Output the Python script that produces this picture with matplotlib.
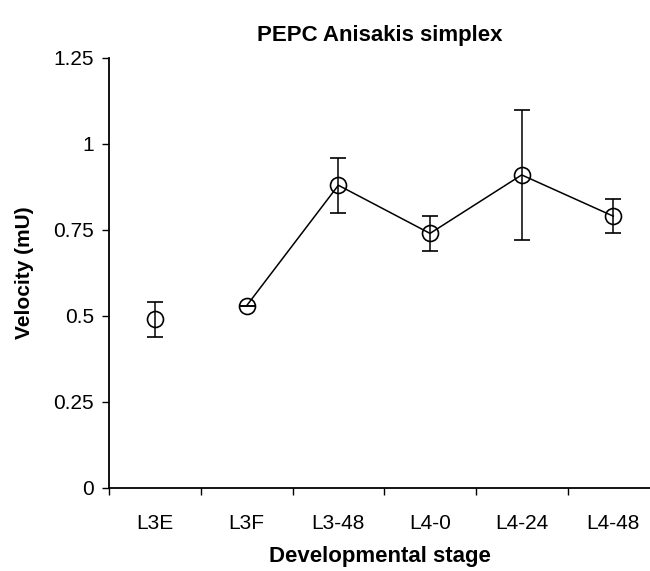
import numpy as np
import matplotlib
matplotlib.use("Agg")
import matplotlib.pyplot as plt

plt.rcParams['font.family'] = ['Liberation Sans', 'DejaVu Sans']

stages = ['L3E', 'L3F', 'L3-48', 'L4-0', 'L4-24', 'L4-48']
velocity = [0.49, 0.53, 0.88, 0.74, 0.91, 0.79]
err = [0.05, 0.0, 0.08, 0.05, 0.19, 0.05]

x = np.arange(len(stages))

fig = plt.figure(figsize=(6.5, 5.71), dpi=100)
ax = fig.add_axes([0.168, 0.1454, 0.832, 0.7531])

# first point stands alone, the rest are joined
ax.plot(x[1:], velocity[1:], color='black', lw=1.1, zorder=2)
ax.errorbar(x, velocity, yerr=err, fmt='o', mfc='none', mec='black', mew=1.2,
            ms=11.5, ecolor='black', elinewidth=1.1, capsize=6, capthick=1.1, zorder=3)

ax.set_xlim(-0.5, 5.4)
ax.set_ylim(0, 1.25)
ax.set_yticks([0, 0.25, 0.5, 0.75, 1, 1.25])
ax.set_yticklabels(['0', '0.25', '0.5', '0.75', '1', '1.25'])
ax.set_xticks(x)
ax.set_xticklabels(stages)
ax.set_xticks(np.arange(-0.5, 5.5, 1), minor=True)
ax.tick_params(axis='x', which='major', length=0, pad=19, labelsize=15)
ax.tick_params(axis='x', which='minor', length=5, width=1, direction='out')
ax.tick_params(axis='y', length=5, width=1, labelsize=15, pad=6)

for s in ['top', 'right']:
    ax.spines[s].set_visible(False)
for s in ['left', 'bottom']:
    ax.spines[s].set_linewidth(1.3)

ax.set_title('PEPC Anisakis simplex', fontsize=16, fontweight='bold', pad=12)
ax.set_xlabel('Developmental stage', fontsize=16, fontweight='bold', labelpad=9)
ax.set_ylabel('Velocity (mU)', fontsize=15, fontweight='bold', labelpad=14)

fig.savefig('out.png', dpi=100)
